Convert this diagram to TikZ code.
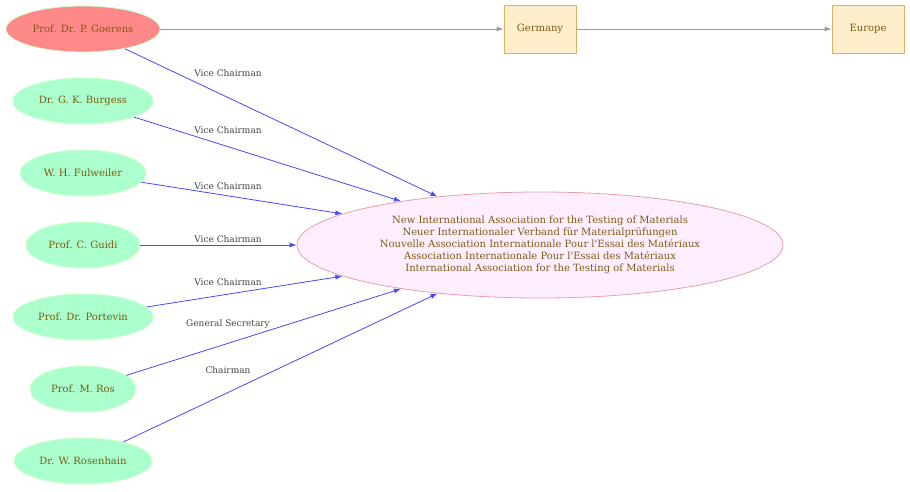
\documentclass[tikz,border=0pt]{standalone}
\usepackage{fontspec}
\setmainfont{DejaVu Serif}
\usetikzlibrary{shapes.geometric,arrows.meta}
\definecolor{txt}{HTML}{7F5A10}
\definecolor{greenfill}{HTML}{AAFFCC}
\definecolor{greenline}{HTML}{CCFFCC}
\definecolor{redfill}{HTML}{FF8888}
\definecolor{pinkfill}{HTML}{FFEEFF}
\definecolor{pinkline}{HTML}{E8A0A8}
\definecolor{boxfill}{HTML}{FFEECC}
\definecolor{boxline}{HTML}{E0B060}
\definecolor{edgeblue}{HTML}{4848FF}
\definecolor{edgegray}{HTML}{999999}
\definecolor{labtxt}{HTML}{444444}
\tikzset{
  person/.style={ellipse, draw=greenline, fill=greenfill, line width=0.8pt, text=txt, font=\fontsize{10}{11}\selectfont, minimum height=46pt, inner sep=0pt},
  place/.style={rectangle, draw=boxline, fill=boxfill, line width=0.8pt, text=txt, font=\fontsize{10}{11}\selectfont, minimum width=72pt, minimum height=48pt, inner sep=0pt},
  org/.style={ellipse, draw=pinkline, fill=pinkfill, line width=0.8pt, text=txt, font=\fontsize{10}{12}\selectfont, align=center, minimum width=486pt, minimum height=106pt, inner sep=0pt},
  role/.style={-{Latex[length=7pt,width=5pt]}, draw=edgeblue, line width=0.8pt},
  link/.style={-{Latex[length=7pt,width=5pt]}, draw=edgegray, line width=0.8pt},
  lab/.style={text=labtxt, font=\fontsize{9}{10}\selectfont, inner sep=0pt}
}
\begin{document}
\begin{tikzpicture}[x=1pt,y=-1pt]
\useasboundingbox (0,0) rectangle (910,491);
\node[person, fill=redfill, minimum width=154pt] (goe) at (83,29) {Prof. Dr. P. Goerens};
\node[person, minimum width=140pt] (bur) at (83,101) {Dr. G. K. Burgess};
\node[person, minimum width=126pt] (ful) at (83,173) {W. H. Fulweiler};
\node[person, minimum width=114pt] (gui) at (83,245) {Prof. C. Guidi};
\node[person, minimum width=140pt] (por) at (83,317) {Prof. Dr. Portevin};
\node[person, minimum width=106pt] (ros) at (83,389) {Prof. M. Ros};
\node[person, minimum width=138pt] (rsh) at (83,461) {Dr. W. Rosenhain};
\node[place] (ger) at (540,29) {Germany};
\node[place] (eur) at (868,29) {Europe};
\node[org] (org) at (540,245) {New International Association for the Testing of Materials\\Neuer Internationaler Verband für Materialprüfungen\\Nouvelle Association Internationale Pour l\textquotesingle Essai des Matériaux\\Association Internationale Pour l\textquotesingle Essai des Matériaux\\International Association for the Testing of Materials};
\draw[link] (goe) -- (ger);
\draw[link] (ger) -- (eur);
\draw[role] (goe) -- (org);
\draw[role] (bur) -- (org);
\draw[role] (ful) -- (org);
\draw[role] (gui) -- (org);
\draw[role] (por) -- (org);
\draw[role] (ros) -- (org);
\draw[role] (rsh) -- (org);
\node[lab] (l1) at (228,73) {Vice Chairman};
\node[lab] (l2) at (228,130) {Vice Chairman};
\node[lab] (l3) at (228,186) {Vice Chairman};
\node[lab] (l4) at (228,239) {Vice Chairman};
\node[lab] (l5) at (228,282) {Vice Chairman};
\node[lab] (l6) at (228,324) {General Secretary};
\node[lab] (l7) at (228,370) {Chairman};
\end{tikzpicture}
\end{document}
